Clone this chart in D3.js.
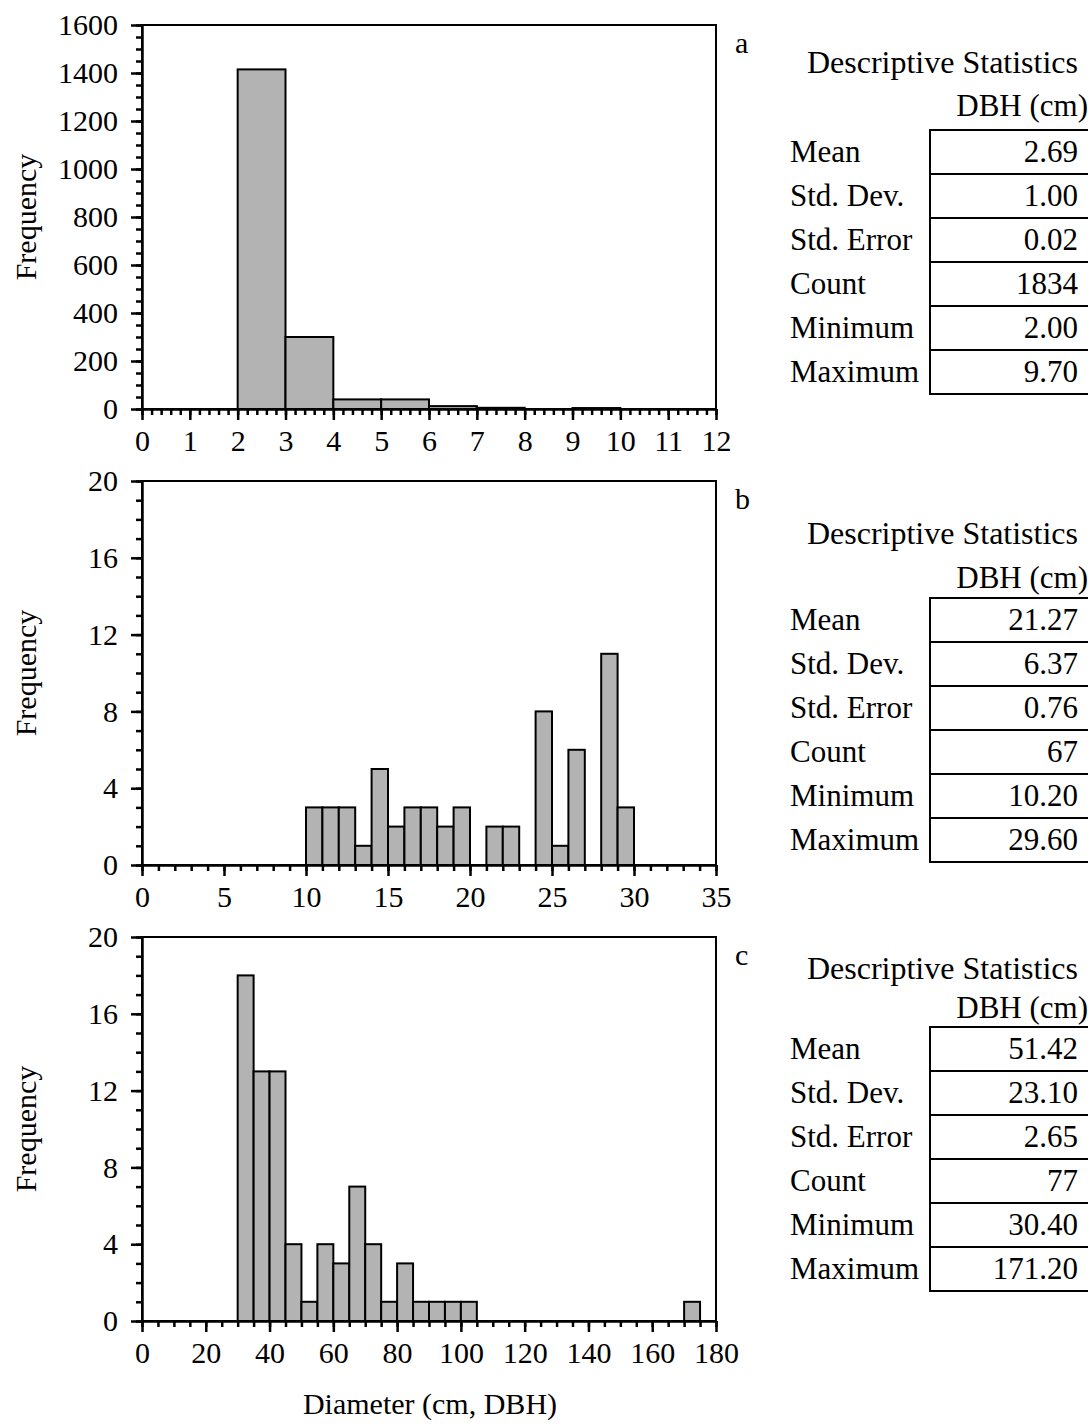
<!DOCTYPE html>
<html>
<head>
<meta charset="utf-8">
<script src="https://cdn.jsdelivr.net/npm/d3@7"></script>
<style>
  body { margin: 0; background: white; }
  text { font-family: "Liberation Serif", "Times New Roman", serif; fill: black; }
</style>
</head>
<body>
<svg id="chart" width="1088" height="1426"></svg>
<script>
// histogram a: bins of width 1
var binsA = [2, 3, 4, 5, 6, 7, 9];
var countsA = [1415, 300, 40, 40, 12, 5, 4];
// histogram b: bins of width 1
var binsB = [10, 11, 12, 13, 14, 15, 16, 17, 18, 19, 21, 22, 24, 25, 26, 28, 29];
var countsB = [3, 3, 3, 1, 5, 2, 3, 3, 2, 3, 2, 2, 8, 1, 6, 11, 3];
// histogram c: bins of width 5
var binsC = [30, 35, 40, 45, 50, 55, 60, 65, 70, 75, 80, 85, 90, 95, 100, 170];
var countsC = [18, 13, 13, 4, 1, 4, 3, 7, 4, 1, 3, 1, 1, 1, 1, 1];

var statLabels = ["Mean", "Std. Dev.", "Std. Error", "Count", "Minimum", "Maximum"];
var statsA = ["2.69", "1.00", "0.02", "1834", "2.00", "9.70"];
var statsB = ["21.27", "6.37", "0.76", "67", "10.20", "29.60"];
var statsC = ["51.42", "23.10", "2.65", "77", "30.40", "171.20"];

var svg = d3.select("#chart");
var left = 142, right = 716, ph = 384;

var panels = [
  { top: 25, letter: "a", bins: binsA, counts: countsA, w: 1, xmax: 12, xMajor: 1, xMinor: 0.2, ymax: 1600, yMajor: 200, yMinor: 50,
    stats: statsA, tTitle: 73, tDbh: 116, tTop: 130, tRow: 44 },
  { top: 481, letter: "b", bins: binsB, counts: countsB, w: 1, xmax: 35, xMajor: 5, xMinor: 1, ymax: 20, yMajor: 4, yMinor: 1,
    stats: statsB, tTitle: 544, tDbh: 588, tTop: 598, tRow: 44 },
  { top: 937, letter: "c", bins: binsC, counts: countsC, w: 5, xmax: 180, xMajor: 20, xMinor: 5, ymax: 20, yMajor: 4, yMinor: 1,
    stats: statsC, tTitle: 979, tDbh: 1018, tTop: 1027, tRow: 44 }
];

panels.forEach(function (p) {
  var bottom = p.top + ph;
  var x = d3.scaleLinear().domain([0, p.xmax]).range([left, right]);
  var y = d3.scaleLinear().domain([0, p.ymax]).range([bottom, p.top]);
  var g = svg.append("g");

  // frame
  g.append("rect")
    .attr("x", left).attr("y", p.top)
    .attr("width", right - left).attr("height", ph)
    .attr("fill", "none").attr("stroke", "black").attr("stroke-width", 2);

  // bars
  var data = p.bins.map(function (b, i) { return { x0: b, n: p.counts[i] }; });
  g.selectAll("rect.bar")
    .data(data)
    .enter().append("rect")
    .attr("class", "bar")
    .attr("x", function (d) { return x(d.x0); })
    .attr("width", function (d) { return x(d.x0 + p.w) - x(d.x0); })
    .attr("y", function (d) { return y(d.n); })
    .attr("height", function (d) { return y(0) - y(d.n); })
    .attr("fill", "#b3b3b3")
    .attr("stroke", "black")
    .attr("stroke-width", 2);

  var xMajors = d3.range(0, p.xmax + p.xMajor / 2, p.xMajor);
  var xMinors = d3.range(0, p.xmax + p.xMinor / 2, p.xMinor);
  var yMajors = d3.range(0, p.ymax + p.yMajor / 2, p.yMajor);
  var yMinors = d3.range(0, p.ymax + p.yMinor / 2, p.yMinor);

  // minor ticks
  g.append("g").attr("transform", "translate(0," + bottom + ")")
    .call(d3.axisBottom(x).tickValues(xMinors).tickSize(6).tickSizeOuter(0).tickFormat(""))
    .call(function (a) { a.select(".domain").remove(); });
  g.append("g").attr("transform", "translate(" + left + ",0)")
    .call(d3.axisLeft(y).tickValues(yMinors).tickSize(6).tickSizeOuter(0).tickFormat(""))
    .call(function (a) { a.select(".domain").remove(); });

  // major ticks with labels
  var xa = g.append("g").attr("transform", "translate(0," + bottom + ")")
    .call(d3.axisBottom(x).tickValues(xMajors).tickSize(11).tickSizeOuter(0).tickPadding(10).tickFormat(d3.format("d")));
  var ya = g.append("g").attr("transform", "translate(" + left + ",0)")
    .call(d3.axisLeft(y).tickValues(yMajors).tickSize(11).tickSizeOuter(0).tickPadding(13).tickFormat(d3.format("d")));

  [xa, ya].forEach(function (a) {
    a.selectAll("text").style("font-size", "30px").style("font-family", "Liberation Serif");
    a.select(".domain").attr("stroke-width", 2.5);
  });
  g.selectAll(".tick line").attr("stroke-width", 2.5);

  // frequency label
  g.append("text")
    .attr("transform", "translate(36," + (p.top + ph / 2) + ") rotate(-90)")
    .attr("text-anchor", "middle")
    .style("font-size", "30px")
    .text("Frequency");

  // panel letter
  g.append("text")
    .attr("x", 735).attr("y", p.top + 28)
    .style("font-size", "30px")
    .text(p.letter);

  // statistics table
  var t = svg.append("g");
  t.append("text").attr("x", 1078).attr("y", p.tTitle).attr("text-anchor", "end")
    .style("font-size", "32px").text("Descriptive Statistics");
  t.append("text").attr("x", 1088).attr("y", p.tDbh).attr("text-anchor", "end")
    .style("font-size", "31px").text("DBH (cm)");

  var rows = d3.range(statLabels.length + 1).map(function (i) { return p.tTop + i * p.tRow; });
  t.selectAll("line.row")
    .data(rows)
    .enter().append("line")
    .attr("x1", 930).attr("x2", 1088)
    .attr("y1", function (d) { return d; }).attr("y2", function (d) { return d; })
    .attr("stroke", "black").attr("stroke-width", 2);
  t.append("line")
    .attr("x1", 930).attr("x2", 930)
    .attr("y1", p.tTop - 1).attr("y2", rows[rows.length - 1] + 1)
    .attr("stroke", "black").attr("stroke-width", 2);

  t.selectAll("text.lab")
    .data(statLabels)
    .enter().append("text")
    .attr("class", "lab")
    .attr("x", 790)
    .attr("y", function (d, i) { return p.tTop + i * p.tRow + 32; })
    .style("font-size", "31px")
    .text(function (d) { return d; });
  t.selectAll("text.val")
    .data(p.stats)
    .enter().append("text")
    .attr("class", "val")
    .attr("x", 1078)
    .attr("y", function (d, i) { return p.tTop + i * p.tRow + 32; })
    .attr("text-anchor", "end")
    .style("font-size", "31px")
    .text(function (d) { return d; });
});

svg.append("text")
  .attr("x", 430).attr("y", 1414)
  .attr("text-anchor", "middle")
  .style("font-size", "30px")
  .text("Diameter (cm, DBH)");
</script>
</body>
</html>
